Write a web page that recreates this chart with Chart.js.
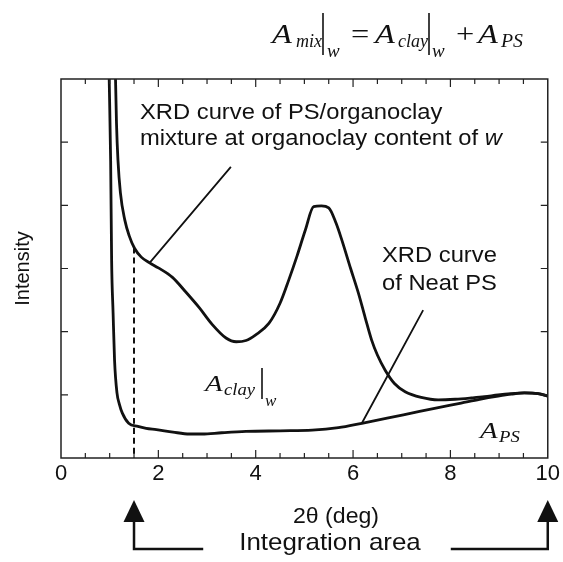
<!DOCTYPE html>
<html>
<head>
<meta charset="utf-8">
<script src="https://cdn.jsdelivr.net/npm/chart.js@4.4.1/dist/chart.umd.min.js"></script>
<style>
  html, body { margin: 0; padding: 0; background: #fff; }
</style>
</head>
<body>
<canvas id="xrdChart" width="563" height="562"></canvas>
<script>
// XRD curves (2theta in deg, intensity in arbitrary units)
const mixX = [1.10, 1.12, 1.14, 1.17, 1.22, 1.31, 1.40, 1.51, 1.65, 1.82, 2.00, 2.29, 2.55, 2.84, 3.10, 3.39, 3.60, 3.80, 4.00, 4.27, 4.50, 4.68, 4.85, 5.02, 5.19, 5.35, 5.50, 5.65, 5.77, 5.95, 6.11, 6.25, 6.38, 6.50, 6.66, 6.85, 7.07, 7.40, 7.75, 8.10, 8.43, 8.70, 8.98, 9.25, 9.52, 9.80, 10.0];
const mixY = [7.00, 6.00, 5.30, 4.72, 4.20, 3.77, 3.52, 3.32, 3.18, 3.09, 3.01, 2.86, 2.64, 2.38, 2.12, 1.90, 1.84, 1.86, 1.95, 2.13, 2.45, 2.82, 3.20, 3.61, 3.98, 3.99, 3.96, 3.72, 3.45, 3.00, 2.61, 2.22, 1.87, 1.63, 1.39, 1.18, 1.05, 0.96, 0.92, 0.93, 0.95, 0.97, 1.00, 1.02, 1.03, 1.02, 0.98];

const psX = [0.97, 0.99, 1.02, 1.04, 1.07, 1.10, 1.15, 1.20, 1.26, 1.39, 1.58, 1.75, 1.96, 2.30, 2.64, 2.90, 3.30, 3.80, 4.50, 5.16, 5.70, 6.18, 6.70, 7.20, 7.70, 8.22, 8.60, 8.98, 9.25, 9.52, 9.80, 10.0];
const psY = [7.00, 6.00, 4.70, 3.13, 2.30, 1.55, 1.03, 0.85, 0.71, 0.55, 0.50, 0.47, 0.45, 0.41, 0.38, 0.38, 0.40, 0.42, 0.43, 0.44, 0.48, 0.55, 0.63, 0.71, 0.79, 0.87, 0.93, 0.98, 1.01, 1.03, 1.02, 0.98];

// integration limits and the dashed cut-off line
const integStart = 1.5;
const integEnd = 10;
const cutoffTop = 3.33;

// leader lines for the two curve labels
const mixLeaderX = [1.82, 3.49];
const mixLeaderY = [3.09, 4.61];
const psLeaderX = [6.18, 7.44];
const psLeaderY = [0.55, 2.34];

const xMajorLabels = [0, 2, 4, 6, 8, 10];

function pts(xs, ys) {
  return xs.map((x, i) => ({ x: x, y: ys[i] }));
}

const SANS = "'Liberation Sans', Arial, sans-serif";
const SERIF = "'Liberation Serif', 'Times New Roman', serif";
const INK = '#111';

// horizontal text in the original is a bit wider than tall
function wideText(ctx, text, x, y, font, sx, align) {
  ctx.save();
  ctx.font = font;
  ctx.translate(x, y);
  ctx.scale(sx, 1);
  ctx.textAlign = align || 'left';
  ctx.textBaseline = 'alphabetic';
  ctx.fillText(text, 0, 0);
  const w = ctx.measureText(text).width * sx;
  ctx.restore();
  return w;
}

function sans(size, italic) {
  return (italic ? 'italic ' : '') + size + 'px ' + SANS;
}

function serif(size, italic) {
  return (italic ? 'italic ' : '') + size + 'px ' + SERIF;
}

function vbar(ctx, x, y1, y2) {
  ctx.beginPath();
  ctx.lineWidth = 1.6;
  ctx.moveTo(x, y1);
  ctx.lineTo(x, y2);
  ctx.stroke();
}

function upArrow(ctx, x, tipY, baseY, footY, endX) {
  ctx.beginPath();
  ctx.moveTo(x, tipY);
  ctx.lineTo(x - 10.5, baseY);
  ctx.lineTo(x + 10.5, baseY);
  ctx.closePath();
  ctx.fill();
  ctx.beginPath();
  ctx.lineWidth = 2.5;
  ctx.moveTo(x, baseY - 1);
  ctx.lineTo(x, footY);
  ctx.lineTo(endX, footY);
  ctx.stroke();
}

const framePlugin = {
  id: 'frameAndNotes',
  afterDraw(chart) {
    const ctx = chart.ctx;
    const area = chart.chartArea;
    const xs = chart.scales.x;
    const ys = chart.scales.y;
    ctx.save();
    ctx.strokeStyle = '#222';
    ctx.fillStyle = INK;

    // frame
    ctx.lineWidth = 1.5;
    ctx.strokeRect(area.left, area.top, area.right - area.left, area.bottom - area.top);

    // inward ticks
    ctx.beginPath();
    ctx.lineWidth = 1.2;
    xs.ticks.forEach(t => {
      if (t.value <= 0 || t.value >= 10) return;
      const px = xs.getPixelForValue(t.value);
      const len = t.value % 2 === 0 ? 8 : 5;
      ctx.moveTo(px, area.bottom);
      ctx.lineTo(px, area.bottom - len);
      ctx.moveTo(px, area.top);
      ctx.lineTo(px, area.top + len);
    });
    ys.ticks.forEach(t => {
      if (t.value <= 0 || t.value >= 6) return;
      const py = ys.getPixelForValue(t.value);
      ctx.moveTo(area.left, py);
      ctx.lineTo(area.left + 7, py);
      ctx.moveTo(area.right, py);
      ctx.lineTo(area.right - 7, py);
    });
    ctx.stroke();

    // equation above the plot
    ctx.strokeStyle = INK;
    wideText(ctx, 'A', 272, 43, serif(27, true), 1.2);
    wideText(ctx, 'mix', 296, 47, serif(18, true), 1.0);
    vbar(ctx, 323, 13, 55);
    wideText(ctx, 'w', 327, 57, serif(19, true), 1.0);
    wideText(ctx, '=', 351, 43, serif(27, false), 1.2);
    wideText(ctx, 'A', 375, 43, serif(27, true), 1.2);
    wideText(ctx, 'clay', 398, 47, serif(18, true), 1.0);
    vbar(ctx, 429, 13, 55);
    wideText(ctx, 'w', 432, 57, serif(19, true), 1.0);
    wideText(ctx, '+', 456, 43, serif(27, false), 1.2);
    wideText(ctx, 'A', 478, 43, serif(27, true), 1.2);
    wideText(ctx, 'PS', 501, 47, serif(18, true), 1.1);

    // curve labels
    const SX = 1.08;
    wideText(ctx, 'XRD curve of PS/organoclay', 140, 119, sans(22), SX);
    const w2 = wideText(ctx, 'mixture at organoclay content of ', 140, 145, sans(22), SX);
    wideText(ctx, 'w', 140 + w2, 145, sans(22, true), SX);
    wideText(ctx, 'XRD curve', 382, 262, sans(22), SX);
    wideText(ctx, 'of Neat PS', 382, 290, sans(22), SX);

    // area labels
    wideText(ctx, 'A', 205, 391, serif(24, true), 1.2);
    wideText(ctx, 'clay', 224, 395, serif(17, true), 1.1);
    vbar(ctx, 262, 368, 399);
    wideText(ctx, 'w', 265, 406, serif(17, true), 1.0);
    wideText(ctx, 'A', 480, 438, serif(24, true), 1.2);
    wideText(ctx, 'PS', 499, 442, serif(17, true), 1.1);

    // axis title and integration range
    wideText(ctx, '2\u03b8 (deg)', 336, 523, sans(22), 1.05, 'center');
    const iw = wideText(ctx, 'Integration area', 330, 550, sans(24), 1.08, 'center');
    const xa = xs.getPixelForValue(integStart);
    const xb = xs.getPixelForValue(integEnd);
    upArrow(ctx, xa, 500, 522, 549, 330 - iw / 2 - 36);
    upArrow(ctx, xb, 500, 522, 549, 330 + iw / 2 + 30);

    ctx.restore();
  }
};

const lineStyle = { borderColor: INK, pointRadius: 0, fill: false, cubicInterpolationMode: 'monotone' };

new Chart(document.getElementById('xrdChart').getContext('2d'), {
  type: 'line',
  data: {
    datasets: [
      Object.assign({ label: 'PS/organoclay mixture', data: pts(mixX, mixY), borderWidth: 2.8 }, lineStyle),
      Object.assign({ label: 'Neat PS', data: pts(psX, psY), borderWidth: 2.8 }, lineStyle),
      Object.assign({ label: 'cut-off', data: pts([integStart, integStart], [cutoffTop, 0]), borderWidth: 2, borderDash: [6, 4] }, lineStyle),
      Object.assign({ label: 'mix leader', data: pts(mixLeaderX, mixLeaderY), borderWidth: 1.8 }, lineStyle),
      Object.assign({ label: 'PS leader', data: pts(psLeaderX, psLeaderY), borderWidth: 1.8 }, lineStyle)
    ]
  },
  options: {
    responsive: false,
    animation: false,
    layout: { padding: { top: 79, right: 13, left: 0, bottom: 0 } },
    plugins: { legend: { display: false }, tooltip: { enabled: false } },
    scales: {
      x: {
        type: 'linear', min: 0, max: 10,
        grid: { display: false, drawTicks: false },
        border: { display: false },
        ticks: {
          stepSize: 0.5, autoSkip: false, maxRotation: 0, padding: 3, color: INK,
          font: { family: SANS, size: 22 },
          callback: v => xMajorLabels.includes(v) ? String(v) : ''
        },
        afterFit: s => { s.height = 104; }
      },
      y: {
        min: 0, max: 6,
        grid: { display: false, drawTicks: false },
        border: { display: false },
        ticks: { stepSize: 1, callback: () => '' },
        title: { display: true, text: 'Intensity', color: INK, font: { family: SANS, size: 20 }, padding: { top: 11, bottom: 0 } },
        afterFit: s => { s.width = 61; }
      }
    }
  },
  plugins: [framePlugin]
});
</script>
</body>
</html>
